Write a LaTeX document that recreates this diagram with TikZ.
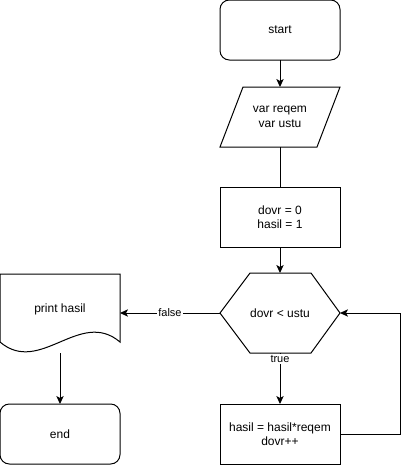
\documentclass[tikz,border=0pt]{standalone}
\usepackage{fontspec}
\setmainfont{Liberation Sans}
\usetikzlibrary{arrows.meta}

\begin{document}
\begin{tikzpicture}[x=0.75pt, y=-0.75pt, line width=0.75pt,
        box/.style={draw, minimum width=90pt, minimum height=45pt, inner sep=0pt, outer sep=0pt,
            align=center, font=\fontsize{9}{10.8}\selectfont},
        roundbox/.style={box, rounded corners=7pt},
        shapebox/.style={box, draw=none},
        arrow/.style={-{Stealth[length=6pt, width=5.5pt, inset=1.5pt]}},
        edgelabel/.style={fill=white, inner sep=1pt, font=\fontsize{8.25}{10}\selectfont}]
    \useasboundingbox (0, 0) rectangle (409, 465);

    \node[roundbox] (start) at (280, 30) {start};
    \node[shapebox] (input) at (280, 117) {var reqem\\var ustu};
    \node[box] (init) at (280, 217) {dovr = 0\\hasil = 1};
    \node[shapebox, minimum height=60pt] (test) at (280, 313) {dovr < ustu};
    \node[box] (body) at (280, 434) {hasil = hasil*reqem\\dovr++};
    \node[shapebox, minimum height=60pt] (print) at (60, 313) {\raisebox{6.75pt}{print hasil}};
    \node[roundbox] (end) at (60, 434) {end};

    % outlines
    \draw (243, 87) -- (340, 87) -- (317, 147) -- (220, 147) -- cycle;
    \draw (220, 313) -- (250, 273) -- (311, 273) -- (340, 313) -- (311, 353) -- (250, 353) -- cycle;
    \draw (0, 274) -- (120, 274) -- (120, 342) .. controls (80, 308) and (40, 376) .. (0, 342) -- cycle;

    \draw[arrow] (start) -- (input);
    \draw (input) -- (init);
    \draw[arrow] (init) -- (test);
    \draw[arrow] (test) -- node[edgelabel, pos=0.12] {true} (body);
    \draw[arrow] (test) -- node[edgelabel] {false} (print);
    \draw[arrow] (body.east) -- ++(60, 0) |- (test.east);
    \draw[arrow] (print) -- (end);
\end{tikzpicture}
\end{document}
